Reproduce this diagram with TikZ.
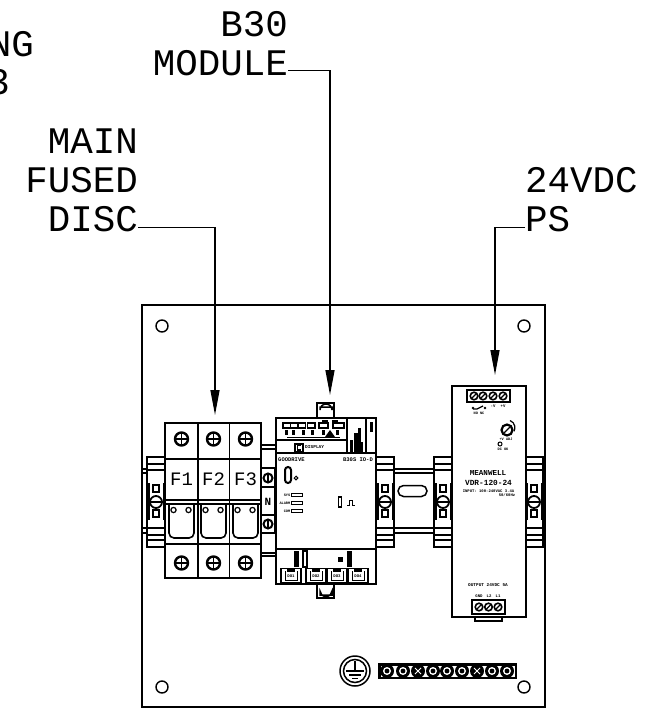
\documentclass[tikz,border=0pt]{standalone}
\usepackage{fontspec}
\setmainfont{Liberation Mono}
\usetikzlibrary{arrows.meta}
\tikzset{
	> = {Triangle[length=25pt,width=9pt]},
	callout/.style = {inner sep=0pt, font=\fontsize{37.5}{37.5}\selectfont},
	leader/.style = {line width=1.4pt},
	part/.style = {draw, line width=1.5pt, fill=white},
	heavy/.style = {line width=1.6pt},
	tinytext/.style = {inner sep=0pt, font=\fontsize{#1}{#1}\selectfont\bfseries},
	tinytext/.default = 4.5
}
\begin{document}
\begin{tikzpicture}[x=1pt,y=-1pt]
	\useasboundingbox (0,0) rectangle (670,708);
	% callouts
	\node[callout,anchor=base east] (ng) at (34,57) {NG};
	\node[callout,anchor=base east] (tb) at (10,95) {3};
	\node[callout,anchor=base east] (b30) at (288,37) {B30};
	\node[callout,anchor=base east] (module) at (288,76) {MODULE};
	\node[callout,anchor=base east] (main) at (138,154) {MAIN};
	\node[callout,anchor=base east] (fused) at (138,193) {FUSED};
	\node[callout,anchor=base east] (disc) at (138,232) {DISC};
	\node[callout,anchor=base west] (vdc) at (525,193) {24VDC};
	\node[callout,anchor=base west] (ps) at (525,232) {PS};
	% panel
	\draw[heavy] (142,305) rectangle (545,707);
	\foreach \cx/\cy in {162/326,524/326,162/687,524/687}
		\draw[line width=1.4pt] (\cx,\cy) circle (6);
	% din rail
	\foreach \ry in {469,473,528,533}{
		\draw[heavy] (142,\ry) -- (147,\ry);
		\draw[heavy] (393,\ry) -- (434,\ry);
		\draw[heavy] (543,\ry) -- (545,\ry);
	}
	\draw[line width=1.5pt] (398,502) ++(5.5,-5.5) -- ++(18,0) arc (90:-90:5.5) -- ++(-18,0) arc (270:90:5.5) -- cycle;
	% rail clips
	\foreach \cx in {147,376,434,525}{
		\draw[part] (\cx,457) rectangle ++(18,90);
		\foreach \cy in {464,470,528,535,540}
			\draw[heavy] (\cx,\cy) -- ++(18,0);
		\fill (\cx,483) rectangle ++(2.5,37);
		\fill (\cx+15.5,483) rectangle ++(2.5,37);
		\draw[heavy] (\cx+6,485) rectangle ++(6,7);
		\draw[heavy] (\cx+6,510) rectangle ++(6,7);
		\draw[line width=1.8pt,fill=white] (\cx+9,502) circle (6);
		\draw[line width=1.8pt] (\cx+3,502) -- ++(12,0);
	}
	% neutral block
	\draw[part] (261,445) rectangle (276,556);
	\draw[heavy] (261,449) -- (276,449);
	\draw[heavy] (261,553) -- (276,553);
	\draw[part] (261,468) rectangle (275,533);
	\foreach \ny in {487,515}
		\draw[heavy] (261,\ny) -- (275,\ny);
	\node[tinytext=11] (neutral) at (268,502) {N};
	\foreach \ny in {478,524}{
		\draw[line width=2pt] (268,\ny) circle (4.5);
		\draw[line width=1.6pt] (268,\ny-4.5) -- (268,\ny+4.5);
	}
	% fuse block
	\draw[part] (165,423) rectangle (261,578);
	\draw[heavy] (165,459) -- (261,459);
	\draw[heavy] (165,500) -- (261,500);
	\draw[heavy] (165,504) -- (261,504);
	\draw[heavy] (165,544) -- (261,544);
	\foreach \fx in {198,229.5}
		\draw[line width=1.8pt] (\fx,423) -- (\fx,578);
	\foreach \fx/\fname in {181.5/F1,213.5/F2,245.5/F3}{
		\node[inner sep=0pt,font=\fontsize{19}{19}\selectfont] at (\fx,479.5) {\fname};
		\foreach \fy in {439,563}{
			\draw[line width=2.4pt] (\fx,\fy) circle (6.5);
			\draw[line width=1.4pt] (\fx-6.5,\fy) -- (\fx+6.5,\fy);
			\draw[line width=1.4pt] (\fx,\fy-6.5) -- (\fx,\fy+6.5);
		}
		\draw[heavy,rounded corners=5pt] (\fx-12.5,504) -- (\fx-12.5,538) -- (\fx+12.5,538) -- (\fx+12.5,504);
		\draw[line width=1.2pt] (\fx-8,510) circle (2.6);
		\draw[line width=1.2pt] (\fx+7,510) circle (2.6);
	}
	% b30 module
	\draw[part] (317,403) rectangle (334,418);
	\draw[line width=1.5pt] (320,407) -- (320,410) arc (180:360:6 and 6) -- (332,407) -- cycle;
	\draw[part] (317,584) rectangle (334,598);
	\draw[line width=1.5pt] (320,595) -- (320,591) arc (180:0:6 and 5.5) -- (332,595) -- cycle;
	\draw[part,line width=1.8pt] (276,418) rectangle (376,584);
	\draw[line width=1.8pt] (276,453) -- (376,453);
	\draw[line width=1.8pt] (276,549) -- (376,549);
	\draw[heavy] (347,418) -- (347,453);
	\draw[heavy] (366,418) -- (366,453);
	\draw[heavy] (276,440) -- (347,440);
	\draw[line width=0.9pt] (287,437.5) -- (340,437.5);
	\foreach \bx in {283,290.5,298,307.5}
		\draw[line width=1.2pt] (\bx,423) rectangle ++(7.5,5);
	\draw[line width=1.2pt] (319,423) rectangle ++(9,5);
	\draw[line width=1.2pt] (333,423) rectangle ++(11,5);
	\fill (322,419.5) rectangle ++(6,3.5);
	\fill (332,419.5) rectangle ++(6,3.5);
	\foreach \bx in {286,293,303,312,323,337}
		\fill (\bx-1.5,430) rectangle ++(3,5);
	\fill (330,430) -- (335,437) -- (325,437) -- cycle;
	\draw[line width=2pt] (295,443.5) rectangle (303,452);
	\draw[line width=1.3pt] (301,445.5) -- (297.5,445.5) -- (297.5,450) -- (301,450);
	\node[tinytext=4.5,anchor=west] (display) at (305,447) {DISPLAY};
	\fill (350,440) rectangle ++(3,12);
	\fill (354,433) rectangle ++(3.5,19);
	\fill (358,428) rectangle ++(2.5,24);
	\fill (361,442) rectangle ++(2,10);
	\fill (370,422) rectangle ++(3,10);
	\node[tinytext=5.5,anchor=west] (maker) at (278,459.5) {GOODRIVE};
	\node[tinytext=5.5,anchor=east] (model) at (373,459.5) {B30S IO-D};
	\draw[line width=2pt,rounded corners=3pt] (285,467) rectangle (291,483);
	\draw[line width=1pt] (296,478) circle (1.8);
	\foreach \ly/\lname in {495/SYS,503/ALARM,511/COM}{
		\draw[line width=1pt,fill=white] (291,\ly-1.5) rectangle ++(11,3);
		\node[tinytext=3.6,anchor=east] at (290.5,\ly) {\lname};
	}
	\draw[line width=1.2pt] (338.5,497) rectangle (341.5,507);
	\draw[line width=1pt] (347,505) -- (349.5,505) -- (349.5,500.5) -- (352,500.5) -- (352,505) -- (355,505);
	\fill (294,551) rectangle ++(5,16);
	\draw[line width=1.2pt] (303,551) rectangle ++(4,16);
	\fill (338,557) rectangle ++(5,5);
	\fill (346.5,551) rectangle ++(5,16);
	\foreach \dx/\dname in {281/DO1,306/DO2,327/DO3,348/DO4}{
		\draw[line width=1.6pt] (\dx,568.5) rectangle ++(20,14.5);
		\draw[line width=1pt] (\dx+4,571) -- ++(0,9) -- ++(12,0) -- ++(0,-9);
		\fill (\dx+6,568.5) rectangle ++(8,3);
		\node[tinytext=4] at (\dx+10,576.5) {\dname};
	}
	% power supply
	\draw[part] (475,617) rectangle (502,621);
	\draw[part] (452,386) rectangle (526,617);
	\draw[line width=1.6pt] (467,390) rectangle (510,402);
	\foreach \sx in {474,483,493,503}{
		\draw[line width=1.6pt] (\sx,396) circle (3.8);
		\draw[line width=1.1pt] (\sx-2.6,398.6) -- (\sx+2.6,393.4);
	}
	\draw[line width=1.2pt] (473,409) -- (477,409) -- (483,406);
	\fill (473,408) circle (1.4) (485,408) circle (1.4);
	\node[tinytext=3.6] (relay) at (479,413.5) {NO NC};
	\node[tinytext=4] (vneg) at (493,406) {-V};
	\node[tinytext=4] (vpos) at (503,406) {+V};
	\draw[line width=2.2pt] (507,430) circle (5.5);
	\draw[line width=1.2pt] (504,433) -- (510,427);
	\draw[line width=1.2pt] (510,420.5) arc (-70:30:7.5);
	\node[tinytext=3.6] (adj) at (506,439) {+V ADJ};
	\draw[line width=1pt] (500,444) circle (2);
	\node[tinytext=3.6] (dcok) at (503,449) {DC OK};
	\node[tinytext=7.6] (brand) at (488,473) {MEANWELL};
	\node[tinytext=7.8] (type) at (488.5,482.5) {VDR-120-24};
	\node[tinytext=3.9] (input) at (488.5,491) {INPUT: 100-240VAC 3.4A};
	\node[tinytext=3.9] (freq) at (507,495.5) {50/60Hz};
	\node[tinytext=4.4] (output) at (488,585) {OUTPUT 24VDC 5A};
	\foreach \tx/\tname in {479/GND,489/L2,498/L1}
		\node[tinytext=4] at (\tx,596) {\tname};
	\draw[line width=1.6pt] (472,600) rectangle (505,614);
	\foreach \sx in {479,488.5,498}{
		\draw[line width=1.6pt] (\sx,607) circle (3.8);
		\draw[line width=1.1pt] (\sx-2.6,609.6) -- (\sx+2.6,604.4);
	}
	% ground and terminal strip
	\draw[line width=1.5pt] (355,671) circle (15);
	\draw[line width=1.5pt] (355,671) circle (11.5);
	\draw[line width=1.4pt] (355,661) -- (355,671);
	\draw[line width=1.4pt] (346,671) -- (364,671);
	\draw[line width=1.4pt] (349,675) -- (361,675);
	\draw[line width=1.4pt] (352,678.5) -- (358,678.5);
	\fill (378,663) rectangle (517,679);
	\fill[white] (380.5,665.5) rectangle (514.5,676.5);
	\foreach \tx in {387,403,418,433,447,462,477,492,507}{
		\fill (\tx,671) circle (7);
		\fill[white] (\tx,671) circle (4);
		\fill (\tx,671) circle (2.4);
	}
	\foreach \tx in {418,477}{
		\fill (\tx,671) circle (6);
		\draw[white,line width=1pt] (\tx-3,668) -- (\tx+3,674) (\tx-3,674) -- (\tx+3,668);
	}
	% leaders
	\coordinate (fusetip) at (215,415);
	\coordinate (moduletip) at (330,395);
	\coordinate (psutip) at (495,375);
	\draw[leader,->] ([yshift=-8pt]disc.east) -- ++(1,0) -| (fusetip);
	\draw[leader,->] ([yshift=-7pt]module.east) -- ++(1,0) -| (moduletip);
	\draw[leader,->] ([yshift=-8pt]ps.west) -- ++(-1,0) -| (psutip);
\end{tikzpicture}
\end{document}
